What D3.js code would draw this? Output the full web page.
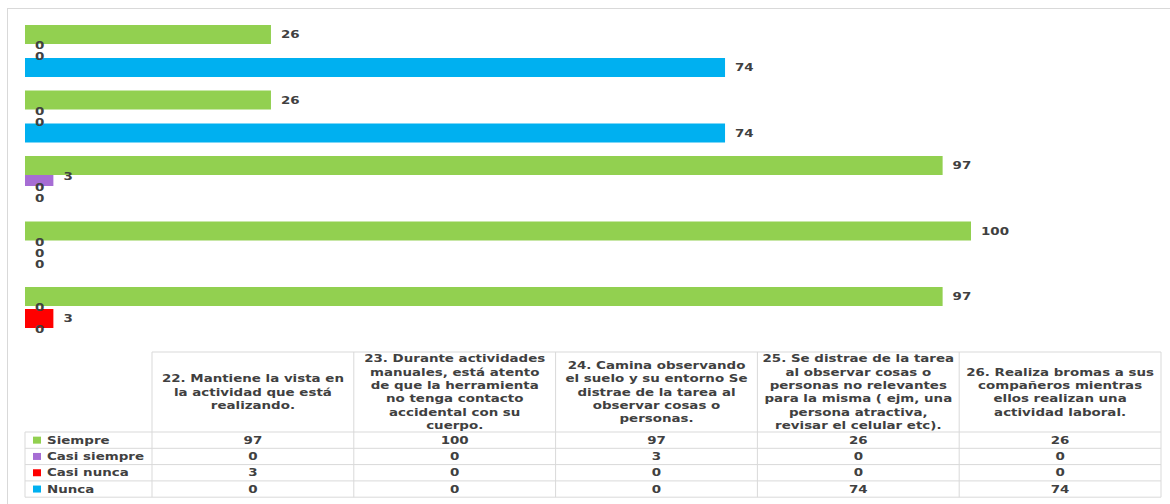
<!DOCTYPE html>
<html>
<head>
<meta charset="utf-8">
<script src="https://cdn.jsdelivr.net/npm/d3@7"></script>
<style>
html,body{margin:0;padding:0;background:#fff;}
svg{display:block;}
text{font-family:"DejaVu Sans",Verdana,sans-serif;font-weight:bold;fill:#404040;}
</style>
</head>
<body>
<svg id="chart" width="1170" height="504"></svg>
<script>
const categoryLines = [
  ["22. Mantiene la vista en","la actividad que está","realizando."],
  ["23. Durante actividades","manuales, está atento","de que la herramienta","no tenga contacto","accidental con su","cuerpo."],
  ["24. Camina observando","el suelo y su entorno Se","distrae de la tarea al","observar cosas o","personas."],
  ["25. Se distrae de la tarea","al observar cosas o","personas no relevantes","para la misma ( ejm, una","persona atractiva,","revisar el celular etc)."],
  ["26. Realiza bromas a sus","compañeros mientras","ellos realizan una","actividad laboral."]
];
const categories = categoryLines.map(l => l.join(" "));
const seriesNames = ["Siempre","Casi siempre","Casi nunca","Nunca"];
const siempre     = [97, 100, 97, 26, 26];
const casiSiempre = [0, 0, 3, 0, 0];
const casiNunca   = [3, 0, 0, 0, 0];
const nunca       = [0, 0, 0, 74, 74];
const seriesColors = ["#92D050","#A66DD4","#FF0000","#00B0F0"];
const seriesValues = [siempre, casiSiempre, casiNunca, nunca];

const SX = 1.22; // horizontal stretch of text, as in the reference
const svg = d3.select("#chart");

// outer frame
svg.append("rect").attr("x",7.5).attr("y",8.5).attr("width",1180).attr("height",520)
  .attr("fill","none").attr("stroke","#d9d9d9");

const x = d3.scaleLinear().domain([0,100]).range([25,971]);
const y = d3.scaleBand().domain(categories.slice().reverse()).range([18.25,345.75]);
const ys = d3.scalePoint().domain(seriesNames).range([-16.5,16.5]);
const barH = 19;
const color = d3.scaleOrdinal().domain(seriesNames).range(seriesColors);

const rows = [];
seriesNames.forEach((s,si) => categories.forEach((c,ci) => rows.push({s, c, v: seriesValues[si][ci], si})));

function cy(d){ return y(d.c) + y.bandwidth()/2 + ys(d.s); }

// draw in reverse series order so Siempre is on top
const drawOrder = rows.slice().sort((a,b) => b.si - a.si);
svg.append("g").selectAll("rect").data(drawOrder).join("rect")
  .attr("x", x(0))
  .attr("y", d => cy(d) - barH/2)
  .attr("width", d => x(d.v) - x(0))
  .attr("height", barH)
  .attr("fill", d => color(d.s));

function stext(g, tx, ty, str, anchor, size){
  return g.append("text")
    .attr("transform", `translate(${tx},${ty}) scale(${SX},1)`)
    .attr("text-anchor", anchor || "start")
    .attr("dominant-baseline","central")
    .style("font-size", (size||11)+"px")
    .text(str);
}

const lg = svg.append("g");
rows.forEach(d => stext(lg, x(d.v) + 10, cy(d), d.v, "start", 11));

// data table
const tbl = svg.append("g");
const colX = d3.scaleBand().domain(categories).range([152,1161]);
const headTop = 352, headBot = 432;
const rowY = d3.scaleBand().domain(seriesNames).range([432,497.2]);
const legLeft = 25;
const lineStroke = "#d9d9d9";

function hline(x1,x2,yy){ tbl.append("line").attr("x1",x1).attr("x2",x2).attr("y1",yy).attr("y2",yy).attr("stroke",lineStroke); }
function vline(xx,y1,y2){ tbl.append("line").attr("x1",xx).attr("x2",xx).attr("y1",y1).attr("y2",y2).attr("stroke",lineStroke); }

hline(152,1161,headTop);
hline(legLeft,1161,headBot);
seriesNames.forEach(s => hline(legLeft,1161,rowY(s)+rowY.bandwidth()));
vline(legLeft,headBot,497.2);
categories.forEach(c => vline(colX(c),headTop,497.2));
vline(1161,headTop,497.2);

// header texts
const lh = 13.3;
categoryLines.forEach((lines,i) => {
  const c = categories[i];
  const cx = colX(c) + colX.bandwidth()/2;
  const mid = (headTop+headBot)/2;
  lines.forEach((ln,j) => {
    stext(tbl, cx, mid + (j - (lines.length-1)/2)*lh, ln, "middle", 11);
  });
});

// rows
seriesNames.forEach((s,si) => {
  const ry = rowY(s) + rowY.bandwidth()/2;
  tbl.append("rect").attr("x",33).attr("y",ry-3.5).attr("width",8).attr("height",7).attr("fill",seriesColors[si]);
  stext(tbl, 47, ry, s, "start", 11);
  categories.forEach((c,ci) => {
    stext(tbl, colX(c)+colX.bandwidth()/2, ry, seriesValues[si][ci], "middle", 11);
  });
});
</script>
</body>
</html>
